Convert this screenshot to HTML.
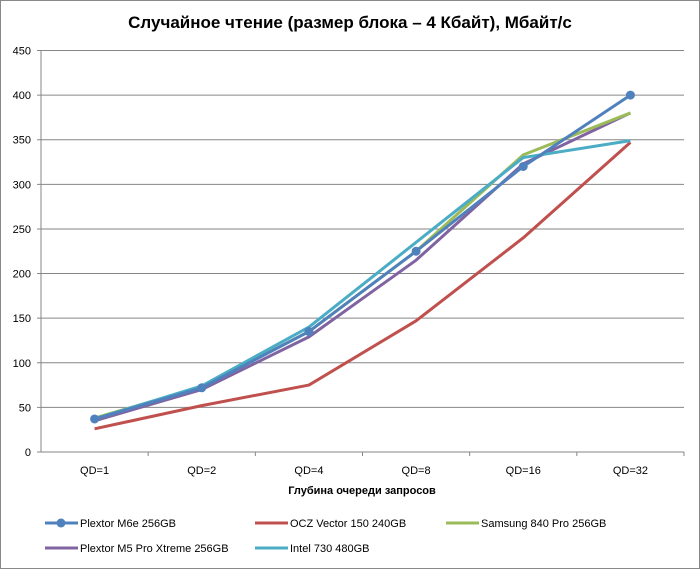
<!DOCTYPE html>
<html><head><meta charset="utf-8"><style>
body{margin:0;background:#fff}
svg text{font-family:"Liberation Sans","DejaVu Sans",sans-serif;fill:#000}
</style></head><body>
<svg width="700" height="569" xmlns="http://www.w3.org/2000/svg">
<rect x="0.5" y="0.5" width="699" height="568" fill="#fff" stroke="#888"/>
<text x="350" y="28" text-anchor="middle" font-size="17" font-weight="bold">Случайное чтение (размер блока – 4 Кбайт), Мбайт/с</text>
<g id="grid"></g>
<g id="yticks"></g>
<g id="xticks"></g>
<g id="series"></g>
<text x="362" y="494" text-anchor="middle" font-size="11" font-weight="bold">Глубина очереди запросов</text>
<g id="legend"></g>
</svg>
<script>
const categories=["QD=1","QD=2","QD=4","QD=8","QD=16","QD=32"];
const yTicks=[0,50,100,150,200,250,300,350,400,450];
const names=["Plextor M6e 256GB","OCZ Vector 150 240GB","Samsung 840 Pro 256GB","Plextor M5 Pro Xtreme 256GB","Intel 730 480GB"];
const m6e=[37,72,135,225,320,400];
const ocz=[26,52,75,147,240,347];
const samsung=[38,73,135,225,333,380];
const m5pro=[35,70,129,215,323,380];
const intel=[37,74,140,235,330,349];
const colors=["#4f81bd","#c0504d","#9bbb59","#8064a2","#4bacc6"];
const NS="http://www.w3.org/2000/svg";
const L=41,R=684,T=50.5,B=452,MAX=450;
const band=(R-L)/categories.length;
const x=i=>L+band*(i+0.5);
const y=v=>B-(v/MAX)*(B-T);
function mk(tag,attrs,parent){const e=document.createElementNS(NS,tag);for(const k in attrs)e.setAttribute(k,attrs[k]);parent.appendChild(e);return e;}
const grid=document.getElementById('grid'),yt=document.getElementById('yticks'),xt=document.getElementById('xticks'),ser=document.getElementById('series'),leg=document.getElementById('legend');
yTicks.forEach(v=>{
 const g=mk('line',{x1:L-4,x2:v===0?R:R,y1:y(v),y2:y(v),stroke:'#868686','stroke-width':1},grid);
 
 
 const t=mk('text',{x:L-10,y:y(v)+4,'text-anchor':'end','font-size':11},yt);t.textContent=v;
 
 
});
mk('line',{x1:L,x2:L,y1:T,y2:B,stroke:'#868686'},yt);
categories.forEach((c,i)=>{
 mk('line',{x1:L+band*(i+1),x2:L+band*(i+1),y1:B,y2:B+4,stroke:'#868686'},xt);
 const t=mk('text',{x:x(i),y:B+22,'text-anchor':'middle','font-size':11},xt);t.textContent=c;
 
 
});
const data=[m6e,ocz,samsung,m5pro,intel];
const order=[1,3,2,4,0];
order.forEach(s=>{
 const p=mk('polyline',{points:data[s].map((v,i)=>x(i)+','+y(v)).join(' '),fill:'none',stroke:colors[s],'stroke-width':3,'stroke-linejoin':'round'},ser);
 
 
 if(s===0)data[s].forEach((v,i)=>{
  const c=mk('circle',{cx:x(i),cy:y(v),r:4.5,fill:colors[0]},ser);
  
  
 });
});
const lpos=[[45,523],[255,523],[446,523],[45,548],[255,548]];
names.forEach((n,s)=>{
 const [lx,ly]=lpos[s];
 const g=mk('g',{},leg);
 
 
 mk('line',{x1:lx,x2:lx+33,y1:ly,y2:ly,stroke:colors[s],'stroke-width':3},g);
 if(s===0)mk('circle',{cx:lx+16,cy:ly,r:4.5,fill:colors[0]},g);
 const t=mk('text',{x:lx+35,y:ly+4,'font-size':11},g);t.textContent=n;
});
</script>
</body></html>
